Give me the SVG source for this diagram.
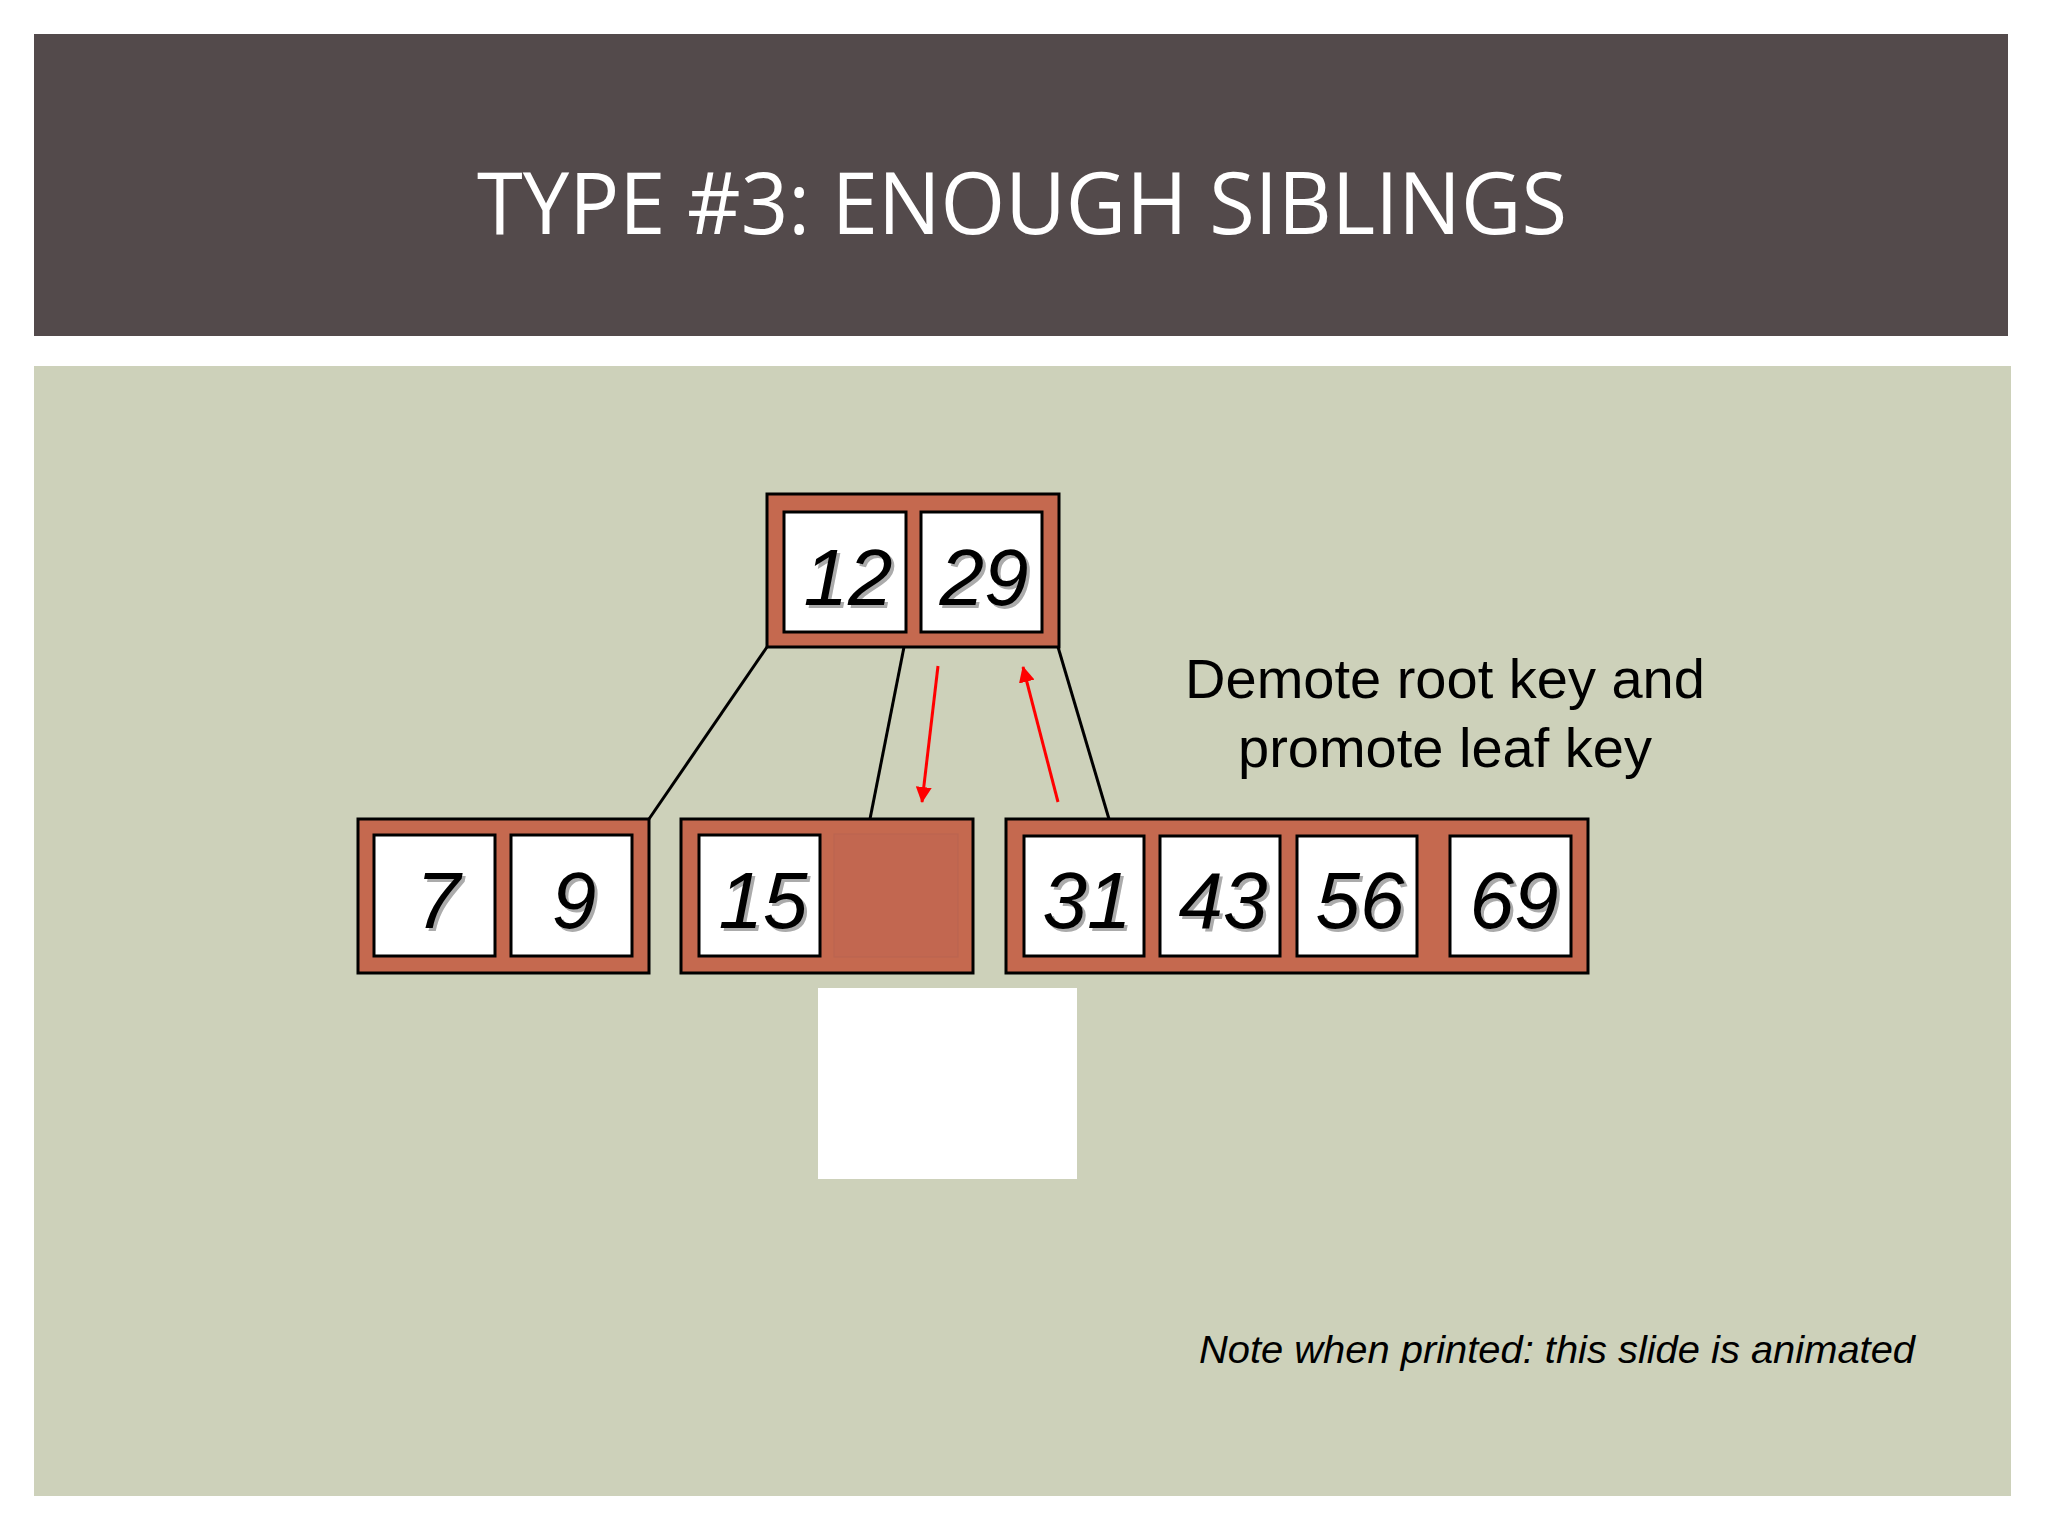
<svg xmlns="http://www.w3.org/2000/svg" width="2048" height="1536" viewBox="0 0 2048 1536">
<defs>
<style>
.node{fill:#C5694F;stroke:#000;stroke-width:3}
.key{fill:#fff;stroke:#000;stroke-width:3}
.slot{fill:#C26750;stroke:#B96550;stroke-width:1}
.num{font-family:"Liberation Sans",Arial,sans-serif;font-style:italic;font-size:80px;text-anchor:middle}
.sh{fill:#ABABAB}
.fg{fill:#000}
.edge{stroke:#000;stroke-width:3;fill:none}
.red{stroke:#FF0000;stroke-width:3;fill:none}
</style>
<marker id="ah" markerUnits="userSpaceOnUse" markerWidth="16" markerHeight="16" viewBox="0 0 16 16" refX="15" refY="8" orient="auto">
<path d="M0,0 L16,8 L0,16 z" fill="#FF0000"/>
</marker>
</defs>
<rect x="0" y="0" width="2048" height="1536" fill="#fff"/>
<rect x="34" y="34" width="1974" height="302" fill="#534A4B"/>
<rect x="34" y="366" width="1977" height="1130" fill="#CDD1BA"/>
<text x="477" y="234" font-family="Open Sans, Liberation Sans, sans-serif" font-size="86" fill="#fff" textLength="1090" lengthAdjust="spacingAndGlyphs">TYPE #3: ENOUGH SIBLINGS</text>

<g id="connectors">
<line class="edge" x1="767" y1="647" x2="649" y2="819"/>
<line class="edge" x1="904" y1="647" x2="870" y2="819"/>
<line class="edge" x1="1058" y1="647" x2="1109" y2="819"/>
<line class="red" x1="938" y1="666" x2="922" y2="802" marker-end="url(#ah)"/>
<line class="red" x1="1058" y1="802" x2="1023" y2="667" marker-end="url(#ah)"/>
</g>

<g id="root">
<rect class="node" x="767" y="494" width="292" height="153"/>
<rect class="key" x="784" y="512" width="122" height="120"/>
<rect class="key" x="921" y="512" width="121" height="120"/>
<text class="num sh" x="851" y="608">12</text><text class="num fg" x="848" y="605">12</text>
<text class="num sh" x="987" y="608">29</text><text class="num fg" x="984" y="605">29</text>
</g>

<g id="leaf1">
<rect class="node" x="358" y="819" width="291" height="154"/>
<rect class="key" x="374" y="835" width="121" height="121"/>
<rect class="key" x="511" y="835" width="121" height="121"/>
<text class="num sh" x="441" y="931">7</text><text class="num fg" x="438" y="928">7</text>
<text class="num sh" x="577" y="931">9</text><text class="num fg" x="574" y="928">9</text>
</g>

<g id="leaf2">
<rect class="node" x="681" y="819" width="292" height="154"/>
<rect class="key" x="699" y="835" width="121" height="121"/>
<rect class="slot" x="834" y="834" width="124" height="123"/>
<text class="num sh" x="766" y="931">15</text><text class="num fg" x="763" y="928">15</text>
</g>

<g id="leaf3">
<rect class="node" x="1006" y="819" width="582" height="154"/>
<rect class="key" x="1024" y="836" width="120" height="120"/>
<rect class="key" x="1160" y="836" width="120" height="120"/>
<rect class="key" x="1297" y="836" width="120" height="120"/>
<rect class="key" x="1450" y="836" width="121" height="120"/>
<text class="num sh" x="1090" y="931">31</text><text class="num fg" x="1087" y="928">31</text>
<text class="num sh" x="1226" y="931">43</text><text class="num fg" x="1223" y="928">43</text>
<text class="num sh" x="1363" y="931">56</text><text class="num fg" x="1360" y="928">56</text>
<text class="num sh" x="1517" y="931">69</text><text class="num fg" x="1514" y="928">69</text>
</g>

<rect x="818" y="988" width="259" height="191" fill="#fff"/>

<g id="caption">
<text font-family="Liberation Sans, Arial, sans-serif" font-size="56" fill="#000" text-anchor="middle"><tspan x="1445" y="698">Demote root key and</tspan><tspan x="1445" y="767">promote leaf key</tspan></text>
</g>
<text x="1199" y="1363" font-family="Liberation Sans, Arial, sans-serif" font-style="italic" font-size="39" fill="#000" textLength="716" lengthAdjust="spacingAndGlyphs">Note when printed: this slide is animated</text>
</svg>
